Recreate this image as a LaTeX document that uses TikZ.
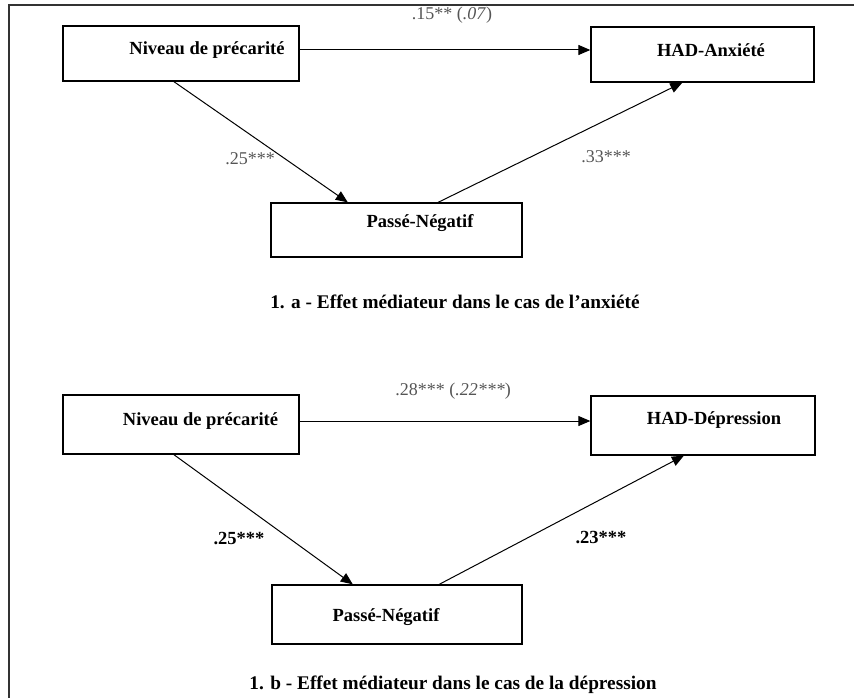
\documentclass[tikz,border=0pt]{standalone}
\usepackage{fontspec}
\setmainfont{Liberation Serif}
\usetikzlibrary{arrows.meta,calc}
\definecolor{labgray}{RGB}{85,85,85}
\tikzset{
  box/.style={draw=black, line width=1.3pt, inner sep=0pt},
  boxtext/.style={font=\fontsize{18.5}{20}\selectfont\bfseries, inner sep=0pt},
  coef/.style={font=\fontsize{18}{20}\selectfont, text=labgray, inner sep=0pt},
  coefb/.style={font=\fontsize{18.5}{20}\selectfont\bfseries, inner sep=0pt},
  captext/.style={font=\fontsize{19.3}{21}\selectfont\bfseries, inner sep=0pt},
  arr/.style={line width=1pt, -{Triangle[length=12pt,width=10pt]}},
}
\begin{document}
\begin{tikzpicture}[x=1pt,y=-1pt]
\useasboundingbox (0,0) rectangle (854,698);
\draw[line width=1.6pt, black!80] (9,698) -- (9,5) -- (854,5);

% top diagram
\node[box, minimum width=236pt, minimum height=55pt] (n1) at (181,53.5) {};
\node[boxtext] (tn1) at (207,50) {Niveau de précarité};
\node[box, minimum width=223pt, minimum height=55pt] (h1) at (702.5,54.5) {};
\node[boxtext] (th1) at (711,50) {HAD-Anxiété};
\node[box, minimum width=251pt, minimum height=54pt] (p1) at (396.5,230) {};
\node[boxtext] (tp1) at (420,223) {Passé-Négatif};

\draw[arr] (n1.east |- tn1) -- (h1.west |- tn1);
\draw[arr] ($(n1.south west)!0.47!(n1.south east)$) -- ($(p1.north west)!0.307!(p1.north east)$);
\draw[arr] ($(p1.north west)!0.665!(p1.north east)$) -- ($(h1.south west)!0.41!(h1.south east)$);

\node[coef] (l1) at (452,15) {.15** (\textit{.07})};
\node[coef] (l2) at (250,159) {.25***};
\node[coef] (l3) at (606,157) {.33***};
\node[captext] (c1) at (455,302) {1. a - Effet médiateur dans le cas de l’anxiété};

% bottom diagram
\node[box, minimum width=236pt, minimum height=59pt] (n2) at (181,424.5) {};
\node[boxtext] (tn2) at (200.5,421) {Niveau de précarité};
\node[box, minimum width=224pt, minimum height=59pt] (h2) at (703,425.5) {};
\node[boxtext] (th2) at (714,420) {HAD-Dépression};
\node[box, minimum width=250pt, minimum height=59pt] (p2) at (397,614.5) {};
\node[boxtext] (tp2) at (386,617) {Passé-Négatif};

\draw[arr] (n2.east |- tn2) -- (h2.west |- tn2);
\draw[arr] ($(n2.south west)!0.47!(n2.south east)$) -- ($(p2.north west)!0.324!(p2.north east)$);
\draw[arr] ($(p2.north west)!0.668!(p2.north east)$) -- ($(h2.south west)!0.415!(h2.south east)$);

\node[coef] (l4) at (453,391) {.28*** (\textit{.22***})};
\node[coefb] (l5) at (239,539) {.25***};
\node[coefb] (l6) at (601,538) {.23***};
\node[captext] (c2) at (453,685) {1. b - Effet médiateur dans le cas de la dépression};
\end{tikzpicture}
\end{document}
